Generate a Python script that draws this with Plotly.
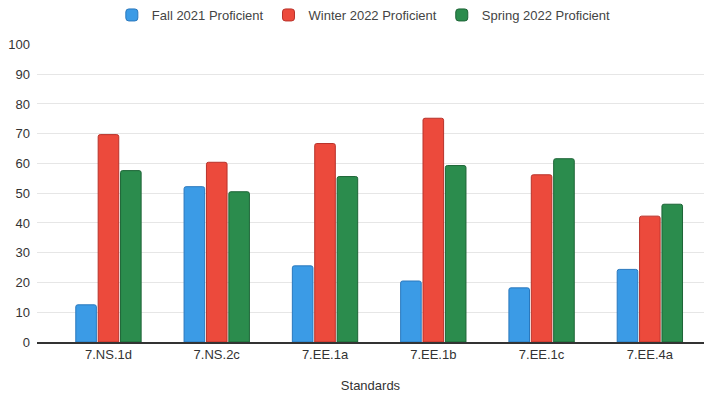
import plotly.graph_objects as go

standards = ["7.NS.1d", "7.NS.2c", "7.EE.1a", "7.EE.1b", "7.EE.1c", "7.EE.4a"]
fall_2021 = [12.5, 52.2, 25.6, 20.5, 18.2, 24.4]
winter_2022 = [69.7, 60.4, 66.7, 75.2, 56.2, 42.3]
spring_2022 = [57.6, 50.5, 55.6, 59.3, 61.6, 46.3]
y_ticks = [0, 10, 20, 30, 40, 50, 60, 70, 80, 90, 100]

series = [
    ("Fall 2021 Proficient", fall_2021, "#3b9be6", "#2a78bd"),
    ("Winter 2022 Proficient", winter_2022, "#ec4a3c", "#b8322a"),
    ("Spring 2022 Proficient", spring_2022, "#2b8c4d", "#1d6436"),
]

fig = go.Figure()
for name, vals, color, edge in series:
    fig.add_trace(go.Bar(
        name=name, x=standards, y=vals,
        marker=dict(color=color, line=dict(color=edge, width=1), cornerradius=2),
    ))

fig.update_layout(
    width=711, height=399,
    margin=dict(l=37, r=7, t=42, b=57),
    paper_bgcolor="white", plot_bgcolor="white",
    font=dict(family="Liberation Sans, Arial, sans-serif", size=13, color="#333333"),
    barmode="group", bargap=0.38, bargroupgap=0.08,
    legend=dict(orientation="h", x=0.49, xanchor="center", y=1.0, yanchor="top",
                yref="container", font=dict(size=13, color="#444444"),
                itemwidth=30, traceorder="normal"),
    showlegend=True,
)
fig.update_xaxes(
    range=[-0.66, 5.5], showgrid=False, showline=True, linecolor="#333333", linewidth=1.5,
    ticks="", tickfont=dict(size=13, color="#333333"),
    title=dict(text="Standards", font=dict(size=13, color="#333333"), standoff=20),
)
fig.update_yaxes(
    range=[0, 100], tickvals=y_ticks, showgrid=True, gridcolor="#e6e6e6", gridwidth=1,
    zeroline=False, ticks="", tickfont=dict(size=13, color="#333333"), ticklabelstandoff=6,
)

fig.write_html("out.html")
